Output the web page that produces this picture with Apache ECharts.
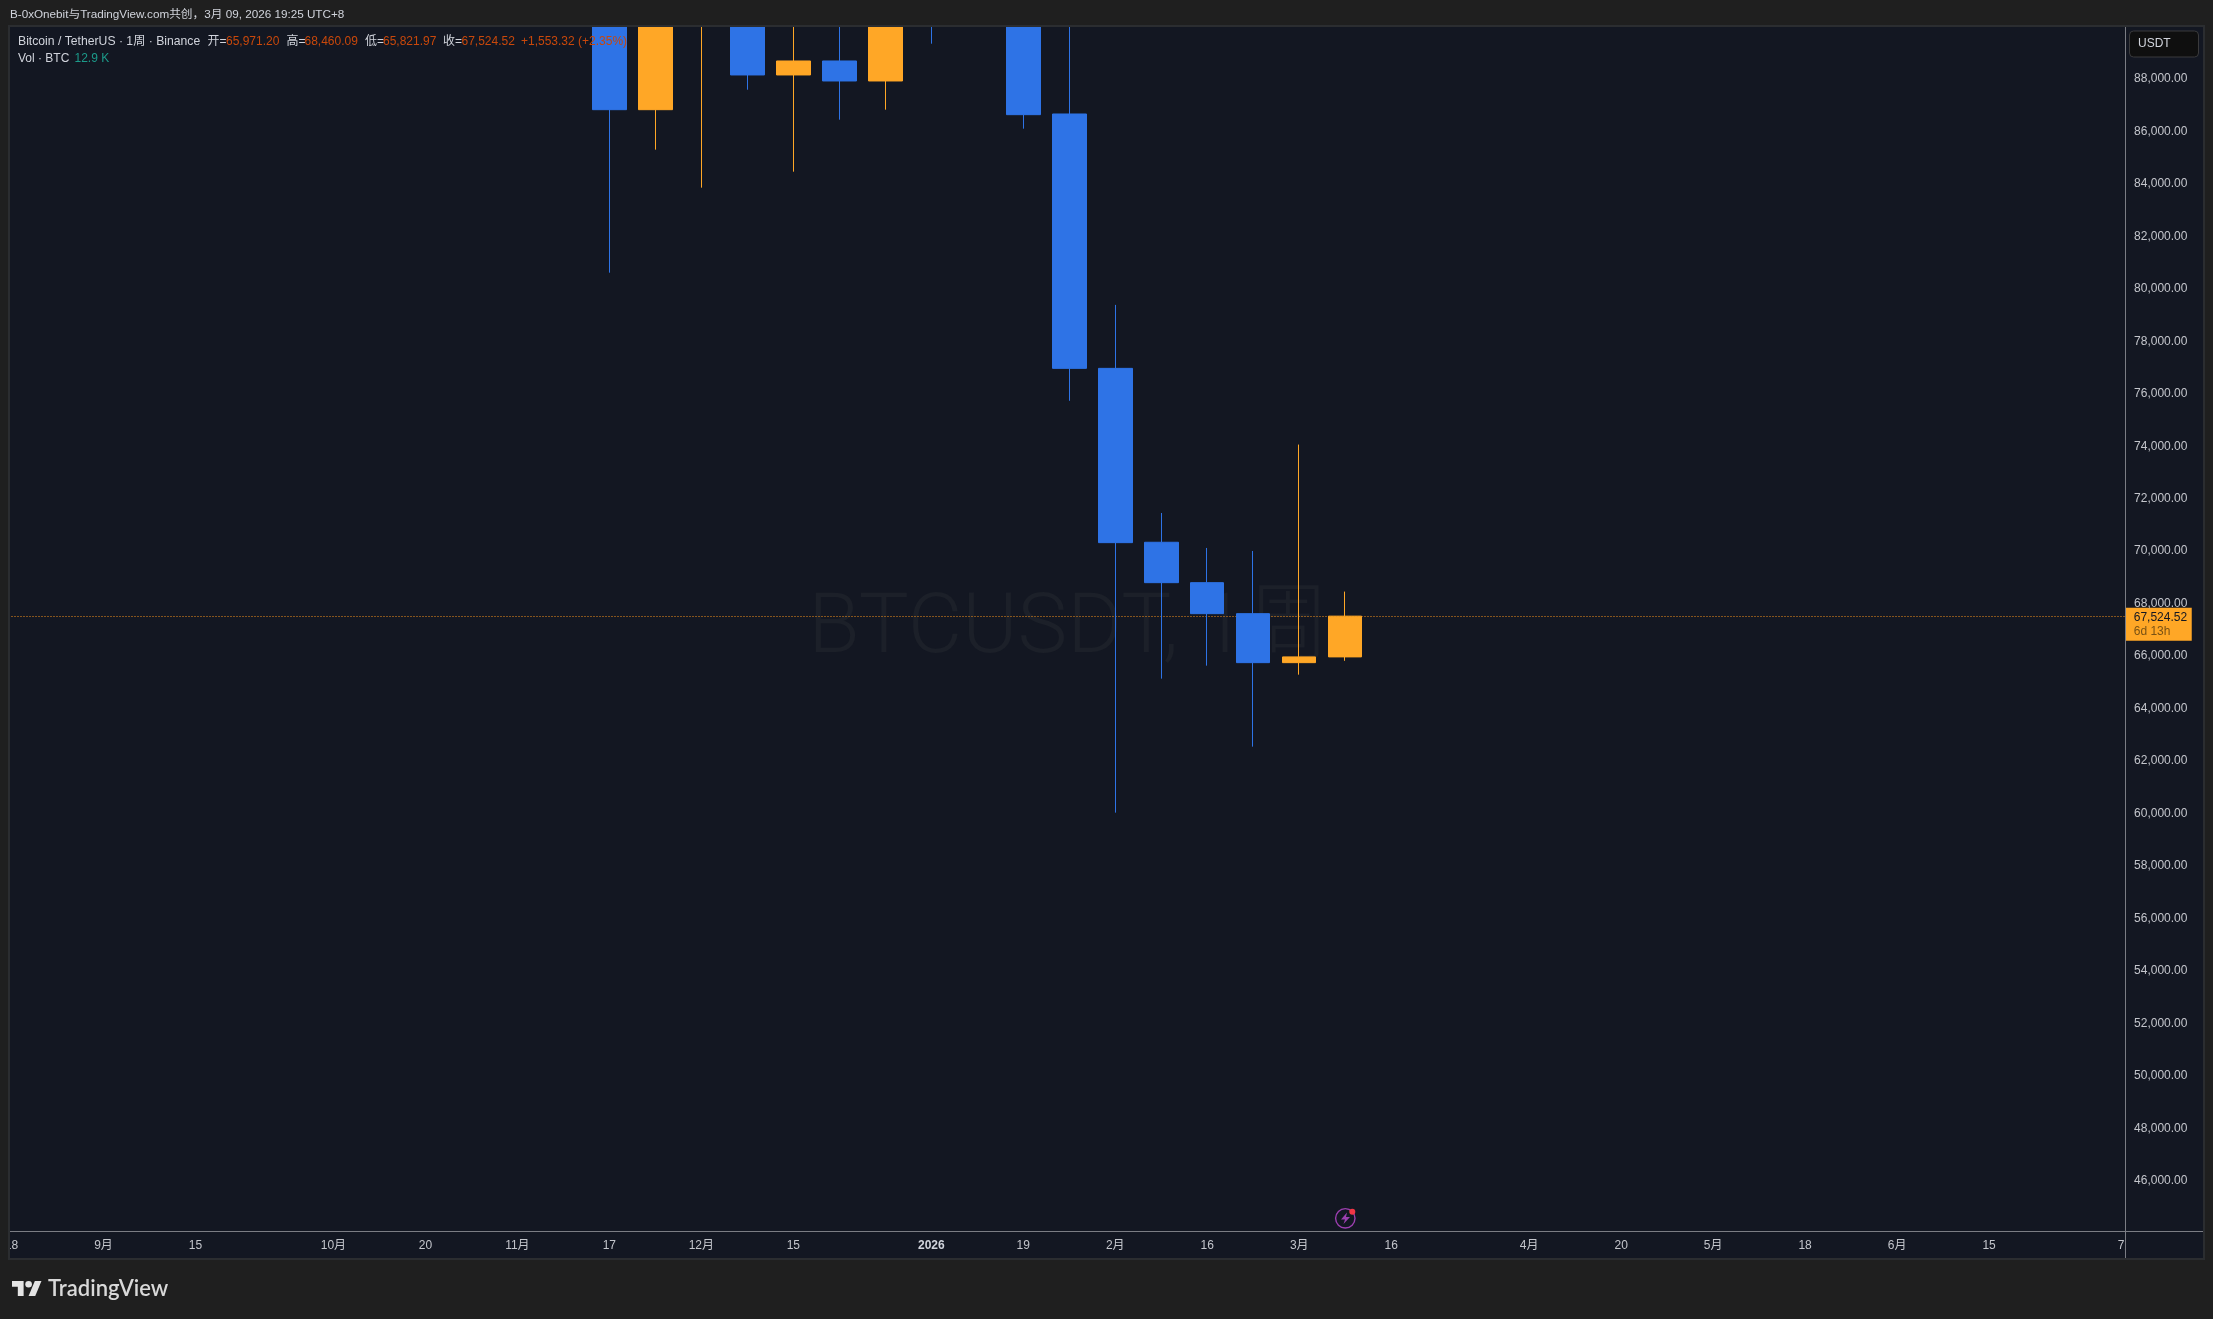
<!DOCTYPE html>
<html><head><meta charset="utf-8"><style>html,body{margin:0;padding:0;background:#1f1f1f}#c{width:2213px;height:1319px}</style>
<script src="https://cdn.jsdelivr.net/npm/echarts@6/dist/echarts.min.js"></script></head>
<body><div id="c"></div><script>
const axisWeeks=['2025-08-18','2025-08-25','2025-09-01','2025-09-08','2025-09-15','2025-09-22','2025-09-29','2025-10-06','2025-10-13','2025-10-20','2025-10-27','2025-11-03','2025-11-10','2025-11-17','2025-11-24','2025-12-01','2025-12-08','2025-12-15','2025-12-22','2025-12-29','2026-01-05','2026-01-12','2026-01-19','2026-01-26','2026-02-02','2026-02-09','2026-02-16','2026-02-23','2026-03-02','2026-03-09','2026-03-16','2026-03-23','2026-03-30','2026-04-06','2026-04-13','2026-04-20','2026-04-27','2026-05-04','2026-05-11','2026-05-18','2026-05-25','2026-06-01','2026-06-08','2026-06-15','2026-06-22','2026-06-29','2026-07-06'];
const tickLabels={'2025-08-18':'18','2025-09-01':'9月','2025-09-15':'15','2025-10-06':'10月','2025-10-20':'20','2025-11-03':'11月','2025-11-17':'17','2025-12-01':'12月','2025-12-15':'15','2026-01-05':'2026','2026-01-19':'19','2026-02-02':'2月','2026-02-16':'16','2026-03-02':'3月','2026-03-16':'16','2026-04-06':'4月','2026-04-20':'20','2026-05-04':'5月','2026-05-18':'18','2026-06-01':'6月','2026-06-15':'15','2026-07-06':'7月'};
const firstCandleWeek='2025-11-17';
const opens =[94200,86826,90300,92500,88149,88682,87920,92500,90500,93600,86662,76967,70340,68800,67619,65752,65971.20];
const closes=[86826,90400,91400,88149,88682,87920,90500,91000,93500,86636,76967,70325,68800,67619,65752,65971.20,67524.52];
const lows  =[80614,85302,83854,87588,84463,86445,86826,89341,90200,86102,75732,60035,65142,65637,62550,65294,65821.97];
const highs =[95900,93100,93900,94600,90600,90580,90900,94800,97800,96000,90600,79387,71456,70123,70008,74063,68460.09];
const lastPrice=67524.52;
const priceMin=44000, priceMax=90000, priceStep=2000;
const titleText='B-0xOnebit与TradingView.com共创，3月 09, 2026 19:25 UTC+8';
const symbolText='Bitcoin / TetherUS · 1周 · Binance';
const ohlcNames=['开=','高=','低=','收='];
const ohlcValues=['65,971.20','68,460.09','65,821.97','67,524.52'];
const changeText='+1,553.32 (+2.35%)';
const volName='Vol · BTC', volValue='12.9 K';

const FONT='"Liberation Sans","Noto Sans CJK SC",sans-serif';
const BLUE='#2e73e6', ORANGE='#ffa726', PANEL='#131722', PAGE='#1f1f1f', EDGE='#2b2d30', LINE='#7b7d84', TXT='#d1d4dc', VAL='#c9480b';
const start=axisWeeks.indexOf(firstCandleWeek);
const candles=axisWeeks.map((w,i)=>{const k=i-start;return k>=0&&k<opens.length?[opens[k],closes[k],lows[k],highs[k]]:'-';});

const txt=(x,y,text,fill,size,extra)=>({type:'text',z:20,silent:true,x,y,style:Object.assign({text,fill,font:(size||12)+'px '+FONT,verticalAlign:'middle',align:'left'},extra||{})});
const rect=(x,y,w,h,fill,z)=>({type:'rect',z,silent:true,shape:{x,y,width:w,height:h},style:{fill}});
const ohlcX=[[207.5,226],[286.5,304.5],[365,383],[443,461.5]];
const legend=[];
ohlcNames.forEach((n,i)=>{legend.push(txt(ohlcX[i][0],42,n,TXT));legend.push(txt(ohlcX[i][1],42,ohlcValues[i],VAL));});

const option={
 animation:false,backgroundColor:PAGE,
 textStyle:{fontFamily:FONT},
 grid:{left:11.5,top:26.4,width:2115.54,height:1207,containLabel:false},
 xAxis:{type:'category',data:axisWeeks,boundaryGap:false,z:3,
  axisLine:{show:false},axisTick:{show:false},splitLine:{show:false},
  axisLabel:{interval:0,margin:6,color:'#c4c6cc',fontFamily:FONT,fontSize:12,hideOverlap:false,
   formatter:v=>{const t=tickLabels[v]||'';return t==='2026'?'{y|2026}':t;},rich:{y:{fontWeight:'bold',fontSize:12,color:'#d1d4dc',fontFamily:FONT}}}},
 yAxis:{type:'value',position:'right',min:priceMin,max:priceMax,interval:priceStep,z:8,scale:true,
  axisLine:{show:false},axisTick:{show:false},splitLine:{show:false},
  axisLabel:{margin:7,color:'#c4c6cc',fontFamily:FONT,fontSize:12,showMinLabel:false,showMaxLabel:false,
   formatter:v=>v.toLocaleString('en-US',{minimumFractionDigits:2,maximumFractionDigits:2})}},
 series:[{type:'candlestick',z:6,barWidth:34,data:candles,
  itemStyle:{color:ORANGE,color0:BLUE,borderColor:ORANGE,borderColor0:BLUE,borderWidth:1},
  markLine:{silent:true,symbol:'none',animation:false,precision:2,
   lineStyle:{color:'#f7931a',type:[1,2],width:1,opacity:1},
   data:[{yAxis:lastPrice}],
   label:{show:true,position:'end',distance:-1.3,align:'left',verticalAlign:'top',offset:[0,-8.5],
    backgroundColor:ORANGE,padding:[3,2,2,8],width:56,
    formatter:()=>'{p|'+lastPrice.toLocaleString('en-US',{minimumFractionDigits:2})+'}\n{t|6d 13h}',
    rich:{p:{color:'#131722',fontSize:12,lineHeight:14,fontFamily:FONT},t:{color:'#7a5214',fontSize:12,lineHeight:14,fontFamily:FONT}}}}
 }],
 graphic:[
  rect(8,25,2197,1235,EDGE,0),
  rect(10,27,2193,1231,PANEL,0),
  {type:'text',z:1,silent:true,x:1069,y:631,style:{text:'BTCUSDT, 1周',fill:'#1c2029',font:'300 84px Roboto,"Noto Sans CJK SC",sans-serif',align:'center',verticalAlign:'middle'}},
  rect(0,0,8,1319,PAGE,5),rect(8,27,2,1231,EDGE,5),
  rect(2126,1232,77,26,PANEL,5),rect(2203,27,2,1233,EDGE,5),
  rect(0,0,2213,25,PAGE,7),
  rect(8,25,2197,2,EDGE,19),
  rect(2125,27,1,1231,LINE,7),
  rect(10,1231,2193,1,LINE,7),
  txt(10,15,titleText,TXT,12,{font:'11.7px '+FONT}),
  txt(18,42,symbolText,TXT,12,{font:'12.2px '+FONT}),
  ...legend,
  txt(521,42,changeText,VAL,12),
  txt(18,59,volName,TXT,12),
  txt(74.5,59,volValue,'#1c9a8a',12),
  {type:'rect',z:9,silent:true,shape:{x:2129.5,y:31,width:69,height:26,r:4},style:{fill:'#0f0f0f',stroke:'#3a3a3c',lineWidth:1}},
  txt(2138,44,'USDT',TXT,12),
  {type:'circle',z:9,silent:true,shape:{cx:1345.3,cy:1218.3,r:9.7},style:{fill:'none',stroke:'#9c3fb0',lineWidth:1.4}},
  {type:'polygon',z:9,silent:true,shape:{points:[[1347,1212.5],[1341,1219.5],[1345,1219.5],[1343.5,1224],[1350,1217],[1346,1217]]},style:{fill:'#9c3fb0'}},
  {type:'circle',z:10,silent:true,shape:{cx:1352.3,cy:1211.7,r:3},style:{fill:'#f23645'}},
  {type:'polygon',z:9,silent:true,x:12,y:1277.7,scaleX:0.83,scaleY:0.83,shape:{points:[[14,22],[7,22],[7,11],[0,11],[0,4],[14,4]]},style:{fill:'#e4e4e4'}},
  {type:'polygon',z:9,silent:true,x:12,y:1277.7,scaleX:0.83,scaleY:0.83,shape:{points:[[28,22],[20,22],[27.5,4],[35.5,4]]},style:{fill:'#e4e4e4'}},
  {type:'circle',z:9,silent:true,shape:{cx:28.6,cy:1284.3,r:3.3},style:{fill:'#e4e4e4'}},
  txt(48,1289,'TradingView','#d9d9d9',21,{font:'600 22px Lato,Inter,sans-serif'})
 ]
};
const chart=echarts.init(document.getElementById('c'),null,{renderer:'canvas',width:2213,height:1319});
chart.setOption(option);
</script></body></html>
